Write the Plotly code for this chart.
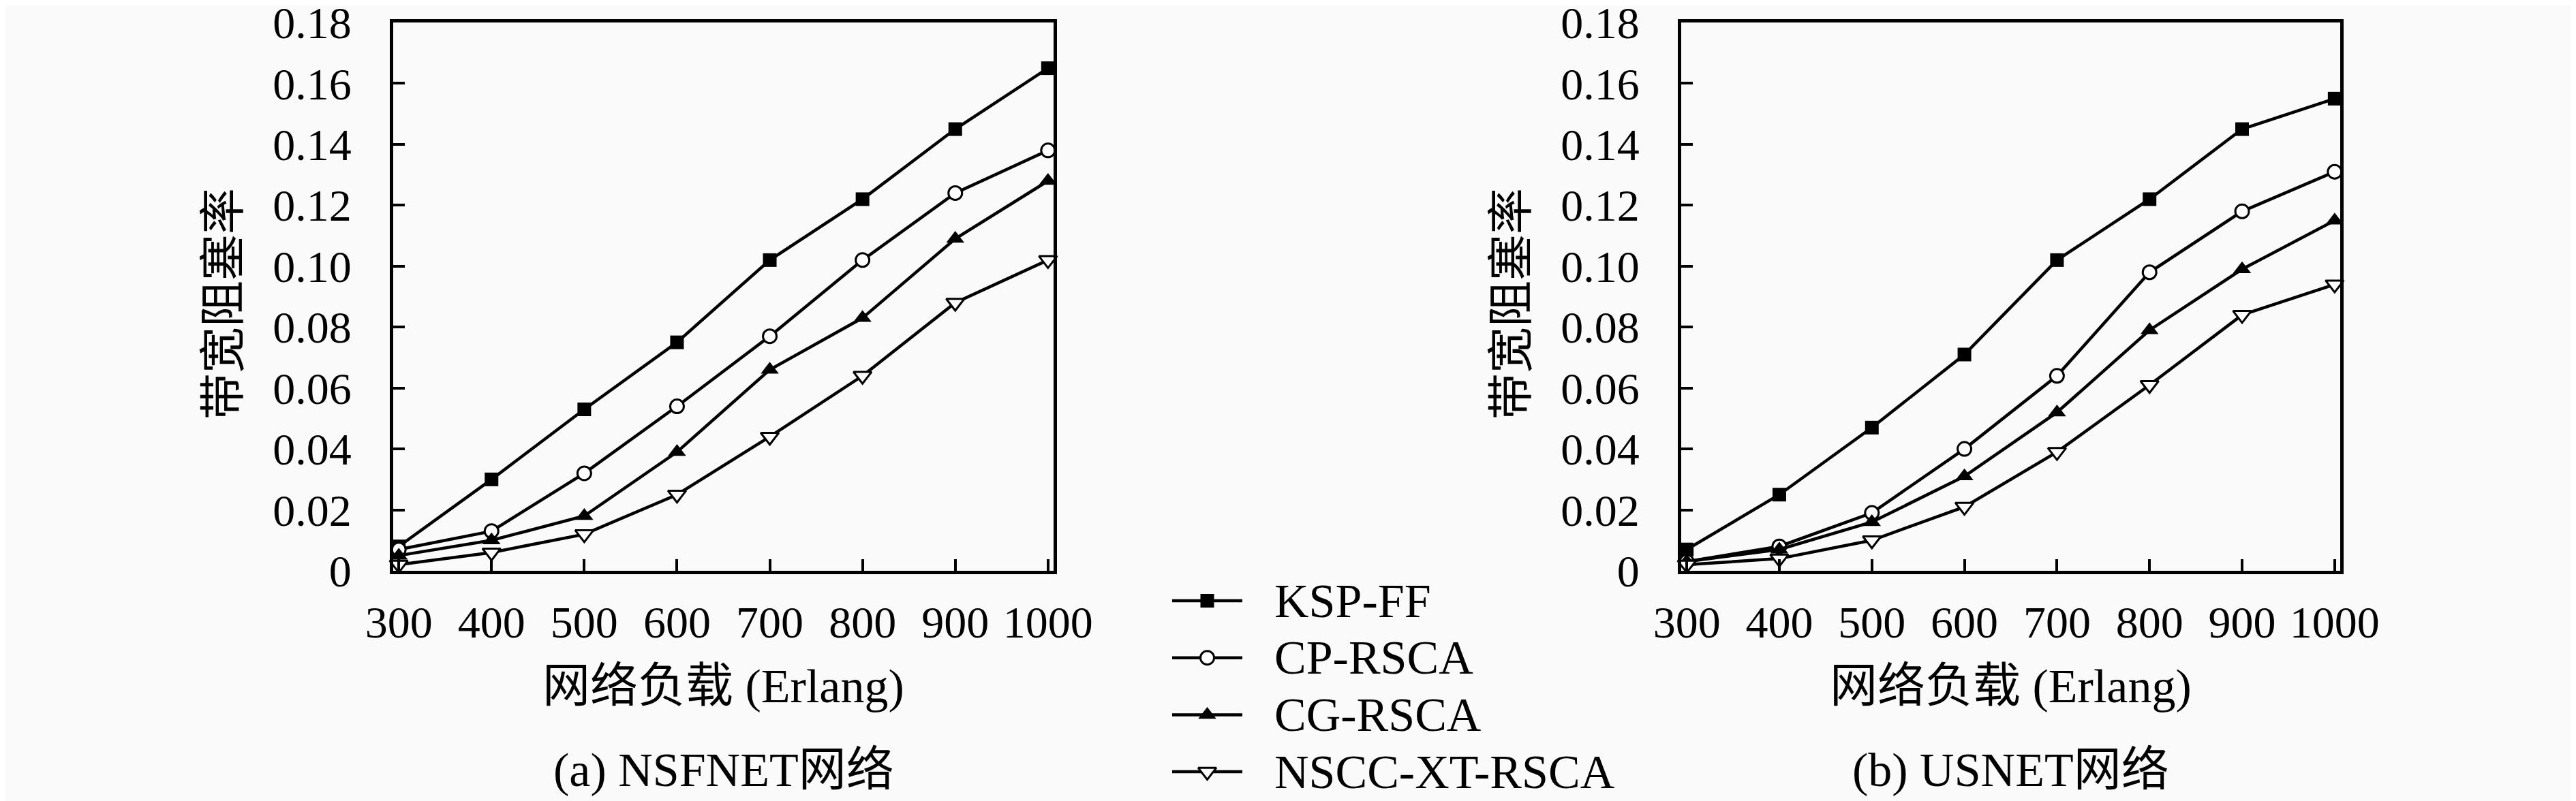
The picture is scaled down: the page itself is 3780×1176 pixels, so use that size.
import plotly.graph_objects as go

# --- data ---
loads = [300, 400, 500, 600, 700, 800, 900, 1000]
series_names = ["KSP-FF", "CP-RSCA", "CG-RSCA", "NSCC-XT-RSCA"]

nsfnet_ksp = [0.008, 0.030, 0.053, 0.075, 0.102, 0.122, 0.145, 0.165]
nsfnet_cp = [0.007, 0.013, 0.032, 0.054, 0.077, 0.102, 0.124, 0.138]
nsfnet_cg = [0.005, 0.010, 0.018, 0.039, 0.066, 0.083, 0.109, 0.128]
nsfnet_nscc = [0.002, 0.006, 0.012, 0.025, 0.044, 0.064, 0.088, 0.102]

usnet_ksp = [0.007, 0.025, 0.047, 0.071, 0.102, 0.122, 0.145, 0.155]
usnet_cp = [0.003, 0.008, 0.019, 0.040, 0.064, 0.098, 0.118, 0.131]
usnet_cg = [0.003, 0.007, 0.016, 0.031, 0.052, 0.079, 0.099, 0.115]
usnet_nscc = [0.002, 0.004, 0.010, 0.021, 0.039, 0.061, 0.084, 0.094]

y_ticks = [0, 0.02, 0.04, 0.06, 0.08, 0.10, 0.12, 0.14, 0.16, 0.18]
y_tick_text = ["0", "0.02", "0.04", "0.06", "0.08", "0.10", "0.12", "0.14", "0.16", "0.18"]

x_title = "网络负载 (Erlang)"
y_title = "带宽阻塞率"
captions = ["(a) NSFNET网络", "(b) USNET网络"]

# --- style ---
W, H = 3780, 1176
OFF = 8  # page body margin, positions below are page pixels
FONT = "Liberation Serif, Noto Sans CJK SC, serif"
BG = "#fafafa"
LINE_W = 4.5
MARKERS = [
    dict(symbol="square", size=20, color="black", line=dict(width=0)),
    dict(symbol="circle", size=20, color="white", line=dict(width=3, color="black")),
    dict(symbol="triangle-up", size=23, color="black", line=dict(width=0)),
    dict(symbol="triangle-down", size=23, color="white", line=dict(width=3, color="black")),
]


def px(x):
    return (x - OFF) / W


def py(y):
    return 1 - (y - OFF) / H


panels = [
    ("x", "y", [nsfnet_ksp, nsfnet_cp, nsfnet_cg, nsfnet_nscc]),
    ("x2", "y2", [usnet_ksp, usnet_cp, usnet_cg, usnet_nscc]),
]

fig = go.Figure()
for xa, ya, data in panels:
    for name, vals, mk in zip(series_names, data, MARKERS):
        fig.add_trace(go.Scatter(
            x=loads, y=vals, xaxis=xa, yaxis=ya, name=name,
            mode="lines+markers", line=dict(color="black", width=LINE_W),
            marker=mk, cliponaxis=False, showlegend=False))

# hand-made legend on its own hidden axes (one row per series)
for k, (name, mk) in enumerate(zip(series_names, MARKERS)):
    fig.add_trace(go.Scatter(x=[0, 1], y=[k, k], xaxis="x3", yaxis="y3",
                             mode="lines", line=dict(color="black", width=LINE_W),
                             showlegend=False, hoverinfo="skip"))
    fig.add_trace(go.Scatter(x=[0.5], y=[k], xaxis="x3", yaxis="y3",
                             mode="markers", marker=mk, cliponaxis=False,
                             showlegend=False, hoverinfo="skip"))

axis_common = dict(showline=True, linecolor="black", linewidth=5, mirror=True,
                   ticks="inside", ticklen=17, tickwidth=4, tickcolor="black",
                   showgrid=False, zeroline=False, automargin=False,
                   ticklabeloverflow="allow",
                   tickfont=dict(family=FONT, size=66, color="black"))

x_dom = [[px(577), px(1546)], [px(2467), px(3434)]]
y_dom = [py(838), py(33)]

LEG_X0, LEG_X1 = 1720, 1823
LEG_Y0, LEG_STEP = 882, 83.7
n = len(series_names)

layout = dict(
    width=W, height=H, paper_bgcolor=BG, plot_bgcolor=BG,
    margin=dict(l=0, r=0, t=0, b=0, autoexpand=False),
    font=dict(family=FONT, color="black"),
    showlegend=False,
    xaxis3=dict(domain=[px(LEG_X0), px(LEG_X1)], range=[0, 1], visible=False,
                anchor="y3", fixedrange=True),
    yaxis3=dict(domain=[py(LEG_Y0 + (n - 0.5) * LEG_STEP), py(LEG_Y0 - 0.5 * LEG_STEP)],
                range=[n - 0.5, -0.5], visible=False, anchor="x3", fixedrange=True),
)
for i, sfx in enumerate(["", "2"]):
    layout["xaxis" + sfx] = dict(axis_common, domain=x_dom[i], range=[294, 1006],
                                 tickvals=loads, ticklabelstandoff=14,
                                 anchor="y" + sfx)
    layout["yaxis" + sfx] = dict(axis_common, domain=y_dom, range=[0, 0.18001],
                                 tickvals=y_ticks, ticktext=y_tick_text,
                                 ticklabelstandoff=43, anchor="x" + sfx)
fig.update_layout(**layout)

annos = []


def label(text, x, y, size, angle=0, xanchor="center"):
    annos.append(dict(text=text, x=x, y=y, xref="paper", yref="paper",
                      xanchor=xanchor, yanchor="middle", textangle=angle,
                      showarrow=False, font=dict(family=FONT, size=size, color="black")))


for i in range(2):
    cx = (x_dom[i][0] + x_dom[i][1]) / 2
    label(x_title, cx, py(1007), 70)
    label(captions[i], cx, py(1130), 70)
label(y_title, px(328), py(446), 68, -90)
label(y_title, px(2218), py(446), 68, -90)
for k, name in enumerate(series_names):
    label(name, px(1868), py(LEG_Y0 + k * LEG_STEP), 70, xanchor="left")
fig.update_layout(annotations=annos)

fig.write_html("out.html")
